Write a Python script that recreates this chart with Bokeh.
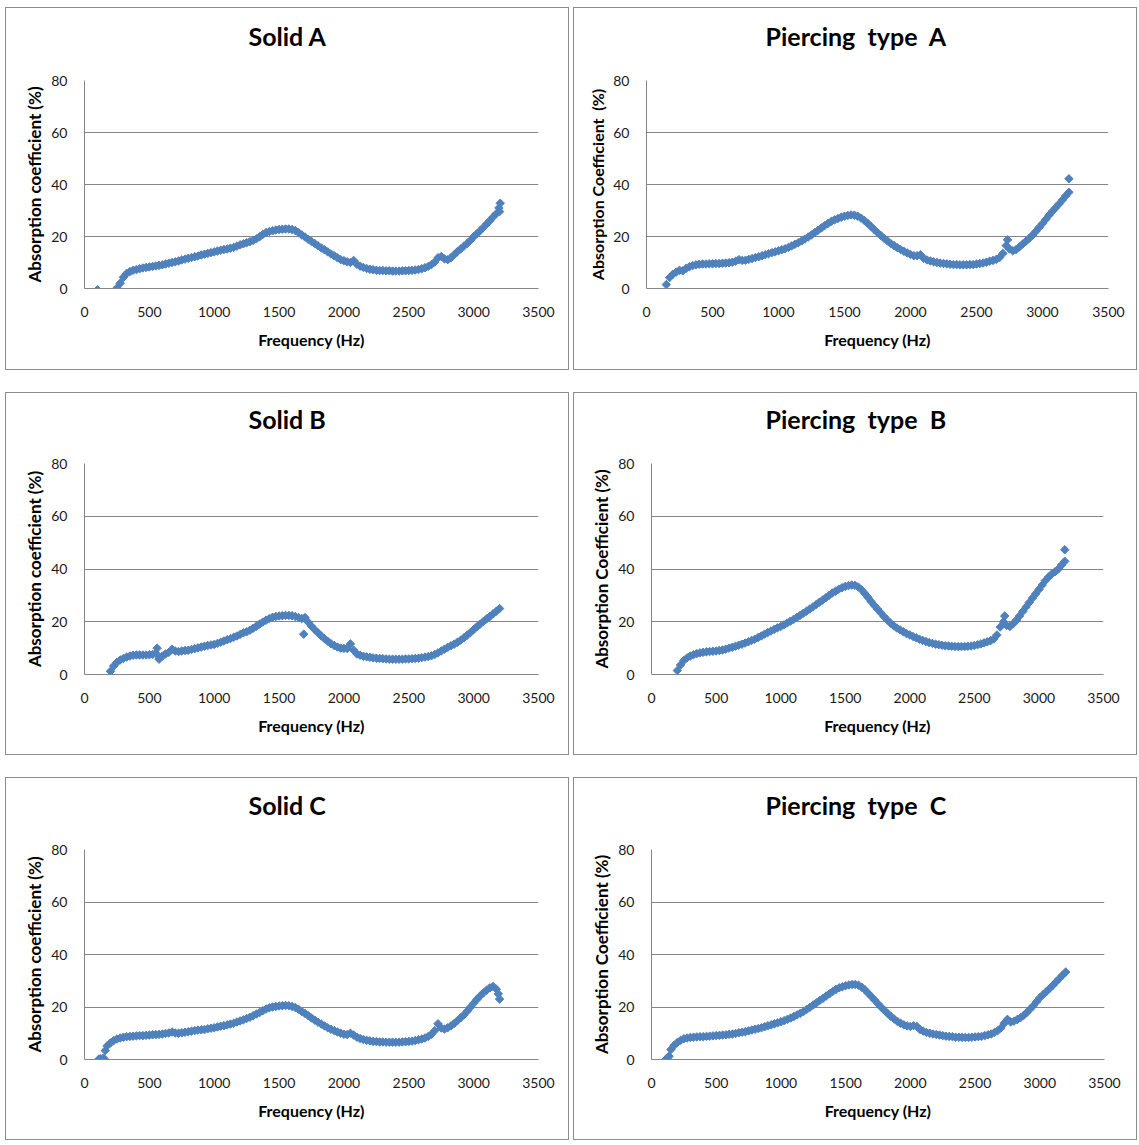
from bokeh.plotting import figure
from bokeh.layouts import column, row
from bokeh.models import Range1d, FixedTicker, Spacer, Title
from bokeh.embed import file_html
from bokeh.resources import INLINE

# ---------------- data ----------------
FREQ_HZ = [
    100, 125, 150, 175, 200, 225, 250, 275, 300, 325,
    350, 375, 400, 425, 450, 475, 500, 525, 550, 575,
    600, 625, 650, 675, 700, 725, 750, 775, 800, 825,
    850, 875, 900, 925, 950, 975, 1000, 1025, 1050, 1075,
    1100, 1125, 1150, 1175, 1200, 1225, 1250, 1275, 1300, 1325,
    1350, 1375, 1400, 1425, 1450, 1475, 1500, 1525, 1550, 1575,
    1600, 1625, 1650, 1675, 1700, 1725, 1750, 1775, 1800, 1825,
    1850, 1875, 1900, 1925, 1950, 1975, 2000, 2025, 2050, 2075,
    2100, 2125, 2150, 2175, 2200, 2225, 2250, 2275, 2300, 2325,
    2350, 2375, 2400, 2425, 2450, 2475, 2500, 2525, 2550, 2575,
    2600, 2625, 2650, 2675, 2700, 2725, 2750, 2775, 2800, 2825,
    2850, 2875, 2900, 2925, 2950, 2975, 3000, 3025, 3050, 3075,
    3100, 3125, 3150, 3175, 3200,
]

solid_a = [
    -0.5, None, None, None, None, None, 0.2, 2.0, 4.3, 5.8,
    6.5, 7.0, 7.3, 7.6, 7.9, 8.1, 8.3, 8.5, 8.7, 8.9,
    9.1, 9.4, 9.7, 10.0, 10.3, 10.6, 11.0, 11.3, 11.6, 11.9,
    12.2, 12.5, 12.9, 13.2, 13.5, 13.8, 14.1, 14.4, 14.7, 15.0,
    15.2, 15.5, 15.8, 16.3, 16.8, 17.2, 17.6, 18.0, 18.5, 19.1,
    19.9, 20.8, 21.5, 21.9, 22.2, 22.5, 22.7, 22.8, 22.9, 22.9,
    22.7, 22.3, 21.5, 20.6, 19.8, 18.9, 18.1, 17.3, 16.4, 15.6,
    14.9, 14.1, 13.3, 12.6, 11.8, 11.1, 10.7, 10.3, 10.0, 10.8,
    9.3, 8.6, 8.1, 7.7, 7.4, 7.2, 7.0, 6.9, 6.9, 6.8,
    6.8, 6.7, 6.7, 6.7, 6.8, 6.8, 6.9, 7.0, 7.1, 7.3,
    7.6, 8.0, 8.5, 9.2, 10.2, 11.8, 12.3, 11.4, 11.1, 11.8,
    13.0, 14.2, 15.2, 16.3, 17.3, 18.5, 19.9, 21.1, 22.2, 23.5,
    24.8, 26.1, 27.5, 28.8, 29.6,
]
solid_a_extra_f = [3195, 3205]
solid_a_extra_v = [31.0, 32.8]

piercing_a = [
    None, None, 1.5, 4.2, 5.5, 6.3, 7.0, 6.8, 7.7, 8.4,
    8.8, 9.1, 9.3, 9.4, 9.4, 9.5, 9.5, 9.6, 9.6, 9.7,
    9.8, 9.9, 10.1, 10.5, 11.1, 10.8, 10.9, 11.2, 11.5, 11.9,
    12.2, 12.6, 13.0, 13.4, 13.8, 14.1, 14.5, 14.9, 15.3, 15.8,
    16.4, 17.0, 17.6, 18.3, 19.0, 19.8, 20.6, 21.5, 22.4, 23.3,
    24.2, 25.0, 25.8, 26.4, 26.9, 27.4, 27.8, 28.1, 28.3, 28.2,
    27.8, 27.1, 26.2, 25.1, 23.9, 22.7, 21.5, 20.4, 19.3, 18.3,
    17.3, 16.5, 15.7, 15.0, 14.3, 13.7, 13.1, 12.6, 12.6, 13.0,
    11.6, 11.0, 10.6, 10.3, 10.0, 9.8, 9.6, 9.5, 9.3, 9.2,
    9.2, 9.1, 9.1, 9.1, 9.2, 9.2, 9.4, 9.6, 9.8, 10.1,
    10.5, 10.8, 11.2, 11.9, 13.5, 16.5, 15.2, 14.5, 15.0, 16.0,
    17.1, 18.2, 19.3, 20.6, 22.0, 23.5, 25.0, 26.6, 28.2, 29.7,
    31.1, 32.5, 34.0, 35.6, 37.0,
]
piercing_a_extra_f = [2735, 3200]
piercing_a_extra_v = [18.7, 42.2]

solid_b = [
    None, None, None, None, 1.2, 3.2, 4.6, 5.5, 6.1, 6.6,
    7.0, 7.3, 7.4, 7.4, 7.4, 7.4, 7.5, 7.6, 8.0, 5.8,
    7.0, 7.8, 8.4, 9.6, 8.9, 8.7, 8.9, 9.1, 9.2, 9.5,
    9.8, 10.1, 10.4, 10.7, 11.0, 11.2, 11.4, 11.8, 12.2, 12.7,
    13.2, 13.6, 14.1, 14.6, 15.2, 15.8, 16.2, 16.8, 17.5, 18.3,
    19.1, 19.9, 20.6, 21.2, 21.7, 22.0, 22.2, 22.3, 22.4, 22.4,
    22.3, 22.0, 21.6, 21.2, 21.6, 19.8, 18.3, 17.0, 15.8, 14.6,
    13.6, 12.6, 11.7, 11.0, 10.4, 10.0, 9.9, 9.9, 11.6, 9.2,
    7.8, 7.3, 6.9, 6.7, 6.5, 6.3, 6.2, 6.1, 6.0, 5.9,
    5.8, 5.8, 5.8, 5.8, 5.8, 5.9, 5.9, 6.0, 6.1, 6.2,
    6.4, 6.6, 6.8, 7.1, 7.6, 8.2, 8.9, 9.6, 10.3, 10.9,
    11.5, 12.2, 13.0, 13.9, 14.9, 15.9, 17.0, 18.1, 19.1, 20.1,
    21.1, 22.0, 23.0, 24.0, 25.0,
]
solid_b_extra_f = [560, 1690]
solid_b_extra_v = [10.0, 15.3]

piercing_b = [
    None, None, None, None, 1.5, 3.6, 5.3, 6.3, 7.0, 7.5,
    7.9, 8.2, 8.4, 8.6, 8.7, 8.8, 8.9, 9.1, 9.3, 9.6,
    10.0, 10.3, 10.7, 11.1, 11.5, 11.9, 12.4, 12.9, 13.4, 14.0,
    14.6, 15.3, 15.9, 16.5, 17.1, 17.7, 18.2, 18.8, 19.5, 20.2,
    20.9, 21.6, 22.4, 23.2, 24.0, 24.8, 25.6, 26.5, 27.4, 28.2,
    29.1, 30.0, 30.9, 31.6, 32.3, 32.9, 33.4, 33.7, 33.9, 33.8,
    33.2, 32.2, 30.8, 29.3, 27.7, 26.2, 24.8, 23.4, 22.0, 20.7,
    19.5, 18.5, 17.6, 16.9, 16.2, 15.5, 15.0, 14.4, 13.9, 13.4,
    12.9, 12.5, 12.1, 11.8, 11.5, 11.3, 11.1, 10.9, 10.8, 10.7,
    10.6, 10.6, 10.6, 10.6, 10.7, 10.8, 11.0, 11.3, 11.6, 12.0,
    12.4, 12.8, 13.5, 15.0, 18.0, 20.0, 18.6, 18.2, 19.2, 20.6,
    22.2, 23.9, 25.6, 27.3, 29.0, 30.6, 32.2, 33.9, 35.6, 37.0,
    38.1, 39.0, 40.0, 41.5, 42.9,
]
piercing_b_extra_f = [2735, 3200]
piercing_b_extra_v = [22.2, 47.3]

solid_c = [
    None, 0.3, 0.4, 5.2, 6.3, 7.2, 7.8, 8.2, 8.5, 8.7,
    8.8, 8.9, 9.0, 9.1, 9.1, 9.2, 9.3, 9.4, 9.5, 9.6,
    9.7, 9.9, 10.1, 10.5, 10.1, 10.0, 10.2, 10.4, 10.6, 10.8,
    11.0, 11.2, 11.3, 11.4, 11.7, 11.9, 12.1, 12.4, 12.7, 12.9,
    13.2, 13.5, 13.8, 14.3, 14.7, 15.1, 15.6, 16.1, 16.7, 17.3,
    17.9, 18.6, 19.2, 19.7, 20.0, 20.2, 20.4, 20.5, 20.6, 20.5,
    20.2, 19.8, 19.1, 18.3, 17.5, 16.7, 15.8, 15.0, 14.2, 13.5,
    12.8, 12.1, 11.5, 11.0, 10.5, 10.0, 9.6, 9.5, 10.0, 9.3,
    8.5, 8.0, 7.6, 7.3, 7.1, 6.9, 6.8, 6.7, 6.7, 6.6,
    6.6, 6.6, 6.6, 6.6, 6.7, 6.8, 6.9, 7.0, 7.2, 7.5,
    7.8, 8.2, 8.8, 9.6, 11.0, 13.6, 12.0, 11.6, 12.1, 12.8,
    13.7, 14.8, 15.9, 17.0, 18.4, 19.9, 21.4, 22.9, 24.2, 25.4,
    26.4, 27.3, 27.8, 26.8, 23.0,
]
solid_c_extra_f = [112, 140, 160, 3190]
solid_c_extra_v = [0.2, 0.3, 3.4, 25.0]

piercing_c = [
    None, 0.8, 3.8, 5.4, 6.5, 7.3, 7.9, 8.2, 8.4, 8.5,
    8.6, 8.7, 8.7, 8.8, 8.9, 9.0, 9.1, 9.2, 9.3, 9.4,
    9.6, 9.7, 9.9, 10.2, 10.4, 10.6, 10.9, 11.2, 11.5, 11.8,
    12.1, 12.5, 12.9, 13.2, 13.6, 14.0, 14.4, 14.8, 15.3, 15.8,
    16.4, 17.0, 17.6, 18.3, 19.1, 19.9, 20.8, 21.6, 22.5, 23.3,
    24.2, 25.0, 25.9, 26.7, 27.3, 27.7, 28.1, 28.4, 28.6, 28.6,
    28.3, 27.5, 26.5, 25.2, 23.9, 22.6, 21.2, 19.9, 18.7, 17.5,
    16.4, 15.4, 14.5, 13.8, 13.2, 12.8, 12.6, 12.9, 12.6, 11.4,
    10.8, 10.3, 10.0, 9.7, 9.5, 9.3, 9.1, 8.9, 8.8, 8.7,
    8.5, 8.5, 8.4, 8.4, 8.4, 8.5, 8.6, 8.7, 8.8, 9.1,
    9.4, 9.7, 10.3, 11.0, 12.0, 13.8, 15.3, 14.3, 14.6, 15.2,
    15.9, 16.8, 17.9, 19.2, 20.5, 22.0, 23.5, 24.7, 25.8, 27.0,
    28.2, 29.5, 30.8, 32.1, 33.3,
]
piercing_c_extra_f = [115, 135]
piercing_c_extra_v = [0.2, 1.2]

X_TICKS = [0, 500, 1000, 1500, 2000, 2500, 3000, 3500]
Y_TICKS = [0, 20, 40, 60, 80]

TITLES = ["Solid A", "Piercing \u00a0type \u00a0A", "Solid B", "Piercing \u00a0type \u00a0B",
          "Solid C", "Piercing \u00a0type \u00a0C"]
Y_LABELS = ["Absorption coefficient (%)", "Absorption Coefficient \u00a0(%)",
            "Absorption coefficient (%)", "Absorption Coefficient (%)",
            "Absorption coefficient (%)", "Absorption Coefficient (%)"]
X_LABEL = "Frequency (Hz)"

# ---------------- styling ----------------
BLUE = "#4F81BD"
GRID = "#868686"
FONT = "Lato"
W, H = 564, 363
# (left, right, top, bottom) frame margins per panel
MARGINS = [(78, 32, 69, 83), (72, 30, 72, 80),
           (78, 32, 70, 82), (77, 35, 70, 82),
           (78, 32, 70, 82), (77, 34, 71, 80)]
Y_LABEL_SIZE = ["17px", "16px", "17px", "17px", "17px", "17px"]
# left-aligned title offset from the frame's left edge (centres the title in the box)
TITLE_OFFSET = [164, 119, 164, 114, 164, 114]


def clean(vals):
    return [float("nan") if v is None else v for v in vals]


def panel(i, vals, ef, ev):
    left, right, top, bottom = MARGINS[i]
    p = figure(width=W, height=H, output_backend="svg", toolbar_location=None,
               x_range=Range1d(0, 3500), y_range=Range1d(0, 80),
               min_border_left=left, min_border_right=right,
               min_border_top=top, min_border_bottom=bottom)
    p.styles = {"border": "1px solid #8c8c8c"}
    p.border_fill_color = "white"
    p.background_fill_color = "white"
    p.outline_line_color = None

    # gap between the frame and the chart title
    p.add_layout(Title(text=" ", text_font_size="1px", standoff=25), "above")

    p.title.text = TITLES[i]
    p.title.align = "left"
    p.title.text_font = FONT
    p.title.text_font_size = "25px"
    p.title.text_font_style = "bold"
    p.title.text_color = "#000000"
    p.title.standoff = 4
    p.title.offset = TITLE_OFFSET[i]

    p.xgrid.visible = False
    p.ygrid.grid_line_color = GRID
    p.ygrid.grid_line_width = 1
    p.ygrid.ticker = FixedTicker(ticks=Y_TICKS)

    for ax in (p.xaxis[0], p.yaxis[0]):
        ax.axis_line_color = GRID
        ax.major_tick_line_color = None
        ax.minor_tick_line_color = None
        ax.major_tick_out = 0
        ax.major_tick_in = 0
        ax.major_label_text_font = FONT
        ax.major_label_text_font_size = "14px"
        ax.major_label_text_color = "#1a1a1a"
        ax.axis_label_text_font = FONT
        ax.axis_label_text_font_style = "bold"
        ax.axis_label_text_color = "#000000"

    p.xaxis.axis_label_text_font_size = "16px"
    p.yaxis.axis_label_text_font_size = Y_LABEL_SIZE[i]
    p.xaxis.ticker = FixedTicker(ticks=X_TICKS)
    p.yaxis.ticker = FixedTicker(ticks=Y_TICKS)
    p.xaxis.axis_label = X_LABEL
    p.yaxis.axis_label = Y_LABELS[i]
    p.xaxis.major_label_standoff = 18
    p.xaxis.axis_label_standoff = 10
    p.yaxis.major_label_standoff = 17
    p.yaxis.axis_label_standoff = 3

    p.scatter(FREQ_HZ, clean(vals), marker="square", angle=0.7854, size=6,
              fill_color=BLUE, line_color=BLUE)
    p.scatter(ef, ev, marker="square", angle=0.7854, size=6,
              fill_color=BLUE, line_color=BLUE)
    return p


series = [
    (solid_a, solid_a_extra_f, solid_a_extra_v),
    (piercing_a, piercing_a_extra_f, piercing_a_extra_v),
    (solid_b, solid_b_extra_f, solid_b_extra_v),
    (piercing_b, piercing_b_extra_f, piercing_b_extra_v),
    (solid_c, solid_c_extra_f, solid_c_extra_v),
    (piercing_c, piercing_c_extra_f, piercing_c_extra_v),
]
plots = [panel(i, *s) for i, s in enumerate(series)]

grid = column(
    row(plots[0], plots[1], spacing=4),
    row(plots[2], plots[3], spacing=4),
    row(plots[4], plots[5], spacing=4),
    spacing=22,
)
layout = column(Spacer(height=7), row(Spacer(width=5), grid, spacing=0), spacing=0)

open("out.html", "w").write(file_html(layout, INLINE))
